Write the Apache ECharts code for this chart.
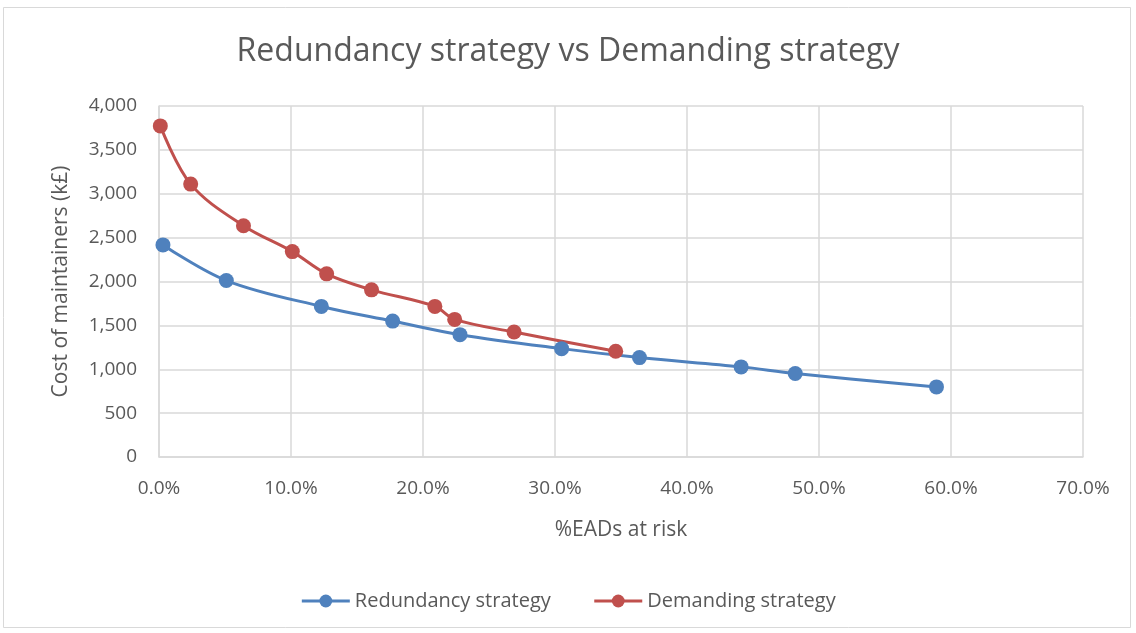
<!DOCTYPE html>
<html>
<head>
<meta charset="utf-8">
<style type="text/css">
html, body { margin: 0; padding: 0; background: #fff; }
#chart { width: 1136px; height: 633px; }
</style>
<script src="https://cdn.jsdelivr.net/npm/echarts@6/dist/echarts.min.js"></script>
</head>
<body>
<div id="chart"></div>
<script type="text/javascript">
// % EADs at risk (x) and cost of maintainers in k£ (y)
var redundancyX = [0.3, 5.1, 12.3, 17.7, 22.8, 30.5, 36.4, 44.1, 48.2, 58.9];
var redundancyY = [2417, 2011, 1716, 1549, 1394, 1235, 1133, 1027, 951, 799];
var demandingX = [0.1, 2.4, 6.4, 10.1, 12.7, 16.1, 20.9, 22.4, 26.9, 34.6];
var demandingY = [3773, 3110, 2636, 2341, 2087, 1905, 1716, 1568, 1424, 1205];

function pairs(xs, ys) {
    var res = [];
    for (var i = 0; i < xs.length; i++) res.push([xs[i], ys[i]]);
    return res;
}

var txt = '#595959';
var font = 'Open Sans';

var myChart = echarts.init(document.getElementById('chart'));
var option = {
    backgroundColor: '#fff',
    animation: false,
    graphic: [{
        type: 'rect',
        shape: { x: 3.5, y: 7.5, width: 1127, height: 620 },
        style: { fill: 'none', stroke: '#D9D9D9', lineWidth: 1 }
    }],
    title: {
        text: 'Redundancy strategy vs Demanding strategy',
        left: 'center',
        top: 31,
        textStyle: { color: txt, fontFamily: font, fontWeight: 'normal', fontSize: 32 }
    },
    legend: {
        top: 586,
        left: 'center',
        itemWidth: 48,
        itemHeight: 16,
        itemGap: 42,
        lineStyle: { width: 3 },
        textStyle: { color: txt, fontFamily: font, fontSize: 20 },
        data: ['Redundancy strategy', 'Demanding strategy']
    },
    grid: { left: 159, right: 53, top: 106, bottom: 176 },
    xAxis: {
        type: 'value',
        min: 0,
        max: 70,
        interval: 10,
        name: '%EADs at risk',
        nameLocation: 'middle',
        nameGap: 63,
        nameTextStyle: { color: txt, fontFamily: font, fontSize: 21 },
        axisLine: { show: true, lineStyle: { color: '#D9D9D9', width: 1.5 } },
        axisTick: { show: false },
        axisLabel: {
            color: txt, fontFamily: font, fontSize: 19, margin: 22,
            formatter: function (v) { return v.toFixed(1) + '%'; }
        },
        splitLine: { lineStyle: { color: '#D9D9D9', width: 1.5 } }
    },
    yAxis: {
        type: 'value',
        min: 0,
        max: 4000,
        interval: 500,
        name: 'Cost of maintainers (k£)',
        nameLocation: 'middle',
        nameGap: 87,
        nameTextStyle: { color: txt, fontFamily: font, fontSize: 21 },
        axisLine: { show: true, lineStyle: { color: '#D9D9D9', width: 1.5 } },
        axisTick: { show: false },
        axisLabel: {
            color: txt, fontFamily: font, fontSize: 19, margin: 22,
            formatter: function (v) { return v.toLocaleString('en-US'); }
        },
        splitLine: { lineStyle: { color: '#D9D9D9', width: 1.5 } }
    },
    series: [
        {
            name: 'Redundancy strategy',
            type: 'line',
            smooth: 0.35,
            symbol: 'circle',
            symbolSize: 15,
            color: '#4F81BD',
            lineStyle: { width: 3, color: '#4F81BD' },
            itemStyle: { color: '#4F81BD' },
            data: pairs(redundancyX, redundancyY)
        },
        {
            name: 'Demanding strategy',
            type: 'line',
            smooth: 0.35,
            symbol: 'circle',
            symbolSize: 15,
            color: '#C0504D',
            lineStyle: { width: 3, color: '#C0504D' },
            itemStyle: { color: '#C0504D' },
            data: pairs(demandingX, demandingY)
        }
    ]
};
myChart.setOption(option);
</script>
</body>
</html>
